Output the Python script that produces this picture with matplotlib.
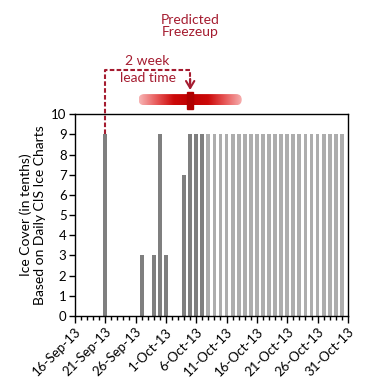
import numpy as np
import pandas as pd
import matplotlib
matplotlib.use('Agg')
import matplotlib.pyplot as plt
import matplotlib.dates as mdates
from matplotlib.patches import FancyBboxPatch, Rectangle
from matplotlib.colors import LinearSegmentedColormap

plt.rcParams['font.family'] = ['Lato', 'DejaVu Sans']

# Daily ice cover (tenths), 16-Sep-13 .. 31-Oct-13
dates = pd.date_range('2013-09-16', '2013-10-31', freq='D')
ice_cover = [0, 0, 0, 0, 0,          # 16-20 Sep
             9,                      # 21 Sep
             0, 0, 0, 0, 0,          # 22-26 Sep
             3, 0, 3, 9,             # 27-30 Sep
             3, 0, 0, 7, 9, 9, 9,    # 1-7 Oct
             9, 9, 9, 9, 9, 9, 9, 9, 9, 9, 9, 9,
             9, 9, 9, 9, 9, 9, 9, 9, 9, 9, 9,   # 8-30 Oct
             0]                      # 31 Oct
last_dark_day = pd.Timestamp('2013-10-07')
lead_start = pd.Timestamp('2013-09-21')
freezeup = pd.Timestamp('2013-10-05')

dark_grey = '#7f7f7f'
light_grey = '#adadad'
red = '#a51c30'

fig = plt.figure(figsize=(3.84, 3.91), dpi=100)
ax = fig.add_axes([0.195, 0.192, 0.711, 0.516])

colors = [dark_grey if d <= last_dark_day else light_grey for d in dates]
ax.bar(dates, ice_cover, width=0.62, color=colors, zorder=2)

ax.set_xlim(pd.Timestamp('2013-09-16'), pd.Timestamp('2013-10-31'))
ax.set_ylim(0, 10)
ax.set_yticks(range(0, 11))
ax.xaxis.set_major_locator(mdates.DayLocator(bymonthday=[1, 6, 11, 16, 21, 26, 31]))
ax.xaxis.set_minor_locator(mdates.DayLocator())
ax.xaxis.set_major_formatter(mdates.DateFormatter('%-d-%b-%y'))
ax.tick_params(axis='x', which='major', length=5, width=1, labelsize=9.5, pad=2)
ax.tick_params(axis='x', which='minor', length=3, width=1)
ax.tick_params(axis='y', length=4, width=1, labelsize=9.5, pad=2)
for lab in ax.get_xticklabels():
    lab.set_rotation(45)
    lab.set_ha('right')
    lab.set_rotation_mode('anchor')
for s in ax.spines.values():
    s.set_linewidth(1)
ax.set_ylabel('Ice Cover (in tenths)\nBased on Daily CIS Ice Charts', fontsize=10, labelpad=4)

# lead time annotation
dash = (0, (2.2, 1.1))
y_line = 12.2
ax.plot([lead_start, lead_start, freezeup, freezeup], [9, y_line, y_line, 11.3],
        color=red, lw=1.5, ls=dash, clip_on=False, zorder=3)
ax.annotate('', xy=(freezeup, 11.2), xycoords='data',
            xytext=(0, 8), textcoords='offset points',
            arrowprops=dict(arrowstyle='->,head_length=0.5,head_width=0.3',
                            color=red, lw=1.5, shrinkA=0, shrinkB=0),
            annotation_clip=False, zorder=5)
mid = lead_start + (freezeup - lead_start) / 2
ax.text(mid, 12.65, '2 week', color=red, fontsize=10, ha='center', va='center',
        clip_on=False)
ax.text(mid, 11.8, 'lead time', color=red, fontsize=10, ha='center', va='center',
        clip_on=False)
ax.text(freezeup, 14.35, 'Predicted\nFreezeup', color=red, fontsize=10,
        ha='center', va='center', linespacing=1.0, clip_on=False)

# uncertainty capsule with red gradient (own small axes placed in data coords)
fx = mdates.date2num(freezeup)
half = 8.5
cy, ch = 10.72, 0.55
cax = ax.inset_axes([fx - half, cy - ch / 2, 2 * half, ch], transform=ax.transData)
cax.set_axis_off()
p0 = ax.transData.transform((fx - half, cy - ch / 2))
p1 = ax.transData.transform((fx + half, cy + ch / 2))
wpx, hpx = p1 - p0
cax.set_xlim(0, wpx)
cax.set_ylim(0, hpx)
capsule = FancyBboxPatch((0, 0), wpx, hpx, boxstyle=f'round,pad=0,rounding_size={hpx / 2}',
                         transform=cax.transData, facecolor='none', edgecolor='none')
cax.add_patch(capsule)
cmap = LinearSegmentedColormap.from_list('rd', ['#c00000', '#cc0a0a', '#e85a5a', '#f7b4b4'])
grad = np.abs(np.linspace(-1, 1, 300))[None, :]
im = cax.imshow(grad, cmap=cmap, aspect='auto', vmin=0, vmax=1,
                extent=(0, wpx, 0, hpx))
im.set_clip_path(capsule)
ax.add_patch(Rectangle((fx - 0.45, cy - 0.45), 0.9, 0.85, color='#b00000',
                       clip_on=False, zorder=6))

fig.savefig('out.png', dpi=100)
